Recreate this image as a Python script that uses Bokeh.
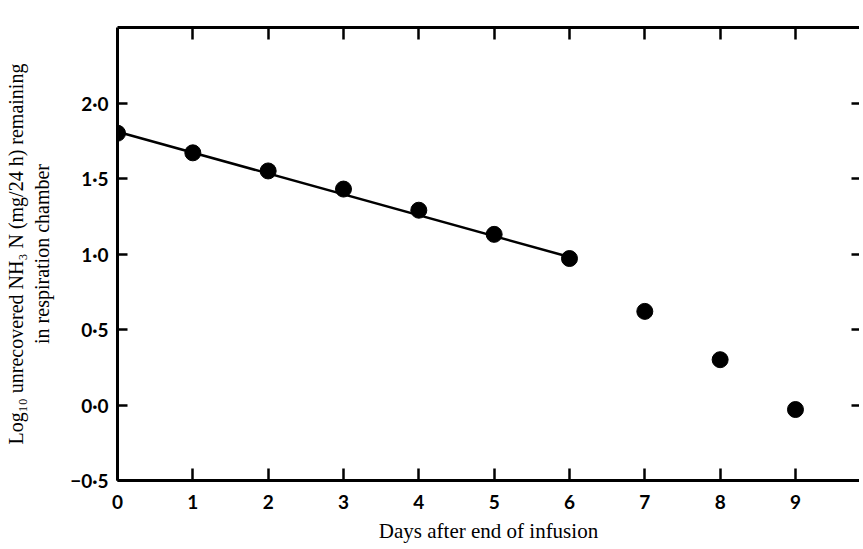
from bokeh.plotting import figure
from bokeh.models import LinearAxis, FixedTicker, Range1d
from bokeh.embed import file_html
from bokeh.resources import INLINE

days = [0, 1, 2, 3, 4, 5, 6, 7, 8, 9]
log_nh3 = [1.80, 1.67, 1.55, 1.43, 1.29, 1.13, 0.97, 0.62, 0.30, -0.03]
fit_days = [0, 6]
fit_vals = [1.81, 0.98]

x_ticks = [0, 1, 2, 3, 4, 5, 6, 7, 8, 9]
x_tick_labels = ["0", "1", "2", "3", "4", "5", "6", "7", "8", "9"]
y_ticks = [-0.5, 0.0, 0.5, 1.0, 1.5, 2.0]
y_tick_labels = ["\u22120\u00b75", "0\u00b70", "0\u00b75", "1\u00b70", "1\u00b75", "2\u00b70"]

x_label = "Days after end of infusion"
y_label = "Log\u2081\u2080 unrecovered NH\u2083 N (mg/24 h) remaining\nin respiration chamber"

p = figure(width=859, height=545, output_backend="svg", toolbar_location=None,
           x_range=Range1d(0, 9.85), y_range=Range1d(-0.5, 2.5),
           min_border_left=117, min_border_top=27, min_border_bottom=63, min_border_right=0)
p.xgrid.visible = False
p.ygrid.visible = False
p.outline_line_color = None
p.background_fill_color = "white"
p.border_fill_color = "white"

tick_font = "Lato"
label_font = "Liberation Serif"

xa = p.xaxis[0]
xa.ticker = FixedTicker(ticks=x_ticks)
xa.major_label_overrides = {float(t): l for t, l in zip(x_ticks, x_tick_labels)}
xa.axis_label = x_label
xa.axis_label_text_font = label_font
xa.axis_label_text_font_style = "normal"
xa.axis_label_text_font_size = "21px"
xa.axis_label_text_color = "black"
xa.axis_label_standoff = 7
xa.major_label_text_font = tick_font
xa.major_label_text_font_style = "bold"
xa.major_label_text_font_size = "19px"
xa.major_label_text_color = "black"
xa.major_label_standoff = 14
xa.major_tick_in = 12
xa.major_tick_out = 0
xa.minor_tick_in = 0
xa.minor_tick_out = 0
xa.axis_line_width = 3
xa.major_tick_line_width = 2.5
xa.axis_line_color = "black"

ya = p.yaxis[0]
ya.ticker = FixedTicker(ticks=y_ticks)
ya.major_label_overrides = {float(t): l for t, l in zip(y_ticks, y_tick_labels)}
ya.axis_label = y_label
ya.axis_label_text_font = label_font
ya.axis_label_text_font_style = "normal"
ya.axis_label_text_font_size = "20px"
ya.axis_label_text_color = "black"
ya.axis_label_standoff = 14
ya.major_label_text_font = tick_font
ya.major_label_text_font_style = "bold"
ya.major_label_text_font_size = "19px"
ya.major_label_text_color = "black"
ya.major_label_standoff = 9
ya.major_tick_in = 10
ya.major_tick_out = 0
ya.minor_tick_in = 0
ya.minor_tick_out = 0
ya.axis_line_width = 3
ya.major_tick_line_width = 2.5

top = LinearAxis(ticker=FixedTicker(ticks=x_ticks[1:]))
top.major_label_overrides = {float(t): "" for t in x_ticks[1:]}
top.major_label_standoff = 0
top.major_tick_in = 12
top.major_tick_out = 0
top.minor_tick_in = 0
top.minor_tick_out = 0
top.axis_line_width = 3
top.major_tick_line_width = 2.5
p.add_layout(top, "above")

right = LinearAxis(ticker=FixedTicker(ticks=y_ticks[1:]))
right.major_label_overrides = {float(t): "" for t in y_ticks[1:]}
right.major_label_standoff = 0
right.major_tick_in = 8
right.major_tick_out = 0
right.minor_tick_in = 0
right.minor_tick_out = 0
right.axis_line_color = None
right.major_tick_line_width = 2.5
p.add_layout(right, "right")

p.line(fit_days, fit_vals, line_color="black", line_width=2.5)
p.scatter(days, log_nh3, size=16, fill_color="black", line_color="black")

open("out.html", "w").write(file_html(p, INLINE))
